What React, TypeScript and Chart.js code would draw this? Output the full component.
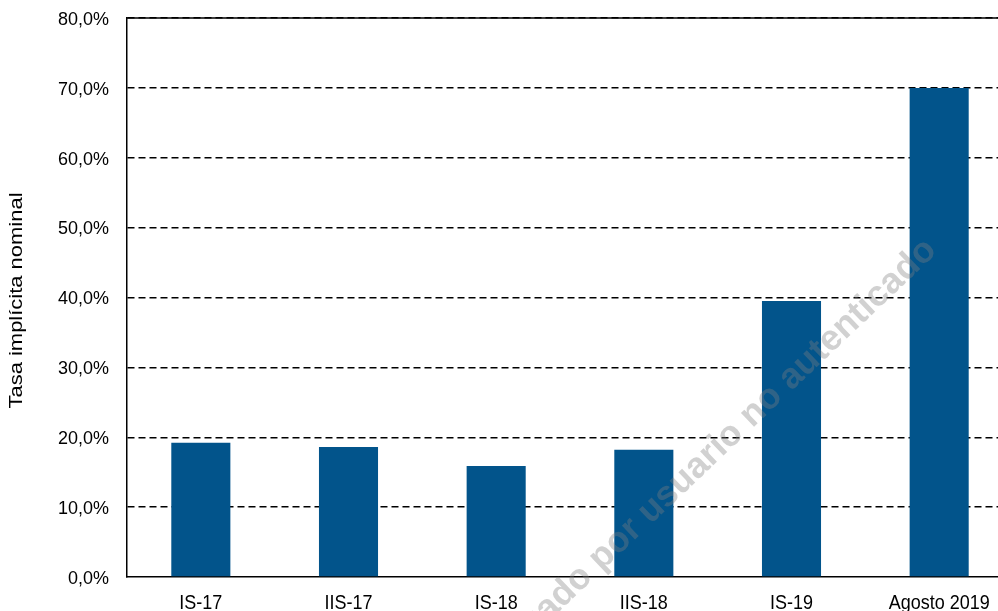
import React, { useEffect, useRef } from "react";
import { Chart, registerables } from "chart.js";

Chart.register(...registerables);

const categories = ["IS-17", "IIS-17", "IS-18", "IIS-18", "IS-19", "Agosto 2019"];
const tasaValues = [19.2, 18.6, 15.9, 18.2, 39.5, 70.0];
const yTicks = [0, 10, 20, 30, 40, 50, 60, 70, 80];
const yTitle = "Tasa implícita nominal";
const watermarkText = "Descargado por usuario no autenticado";

const FONT = "'Liberation Sans', Arial, sans-serif";

const fmt = (v: number) => v.toFixed(1).replace(".", ",") + "%";

const extrasPlugin = {
  id: "extras",
  afterDatasetsDraw(chart: any) {
    const { ctx, chartArea } = chart;
    const xs = chart.scales.x;
    const ys = chart.scales.y;
    // solid top border line
    ctx.save();
    ctx.strokeStyle = "#000";
    ctx.lineWidth = 1.5;
    ctx.beginPath();
    ctx.moveTo(chartArea.left, chartArea.top);
    ctx.lineTo(chartArea.right, chartArea.top);
    ctx.stroke();
    ctx.restore();

    // y tick labels
    ctx.save();
    ctx.fillStyle = "#000";
    ctx.font = `18px ${FONT}`;
    ctx.textAlign = "right";
    ctx.textBaseline = "middle";
    yTicks.forEach((v) => {
      const y = ys.getPixelForValue(v);
      ctx.save();
      ctx.translate(ys.right - 18, y + 1.5);
      ctx.scale(1, 1.06);
      ctx.fillText(fmt(v), 0, 0);
      ctx.restore();
    });
    ctx.restore();

    // x tick labels
    ctx.save();
    ctx.fillStyle = "#000";
    ctx.font = `18px ${FONT}`;
    ctx.textAlign = "center";
    ctx.textBaseline = "alphabetic";
    categories.forEach((c, i) => {
      const x = xs.getPixelForTick(i);
      ctx.save();
      ctx.translate(x, xs.top + 32);
      ctx.scale(1, 1.17);
      ctx.fillText(c, 0, 0);
      ctx.restore();
    });
    ctx.restore();

    // y axis title
    ctx.save();
    ctx.fillStyle = "#000";
    ctx.font = `18px ${FONT}`;
    ctx.textAlign = "center";
    ctx.textBaseline = "middle";
    ctx.translate(17.5, (chartArea.top + chartArea.bottom) / 2 + 3);
    ctx.rotate(-Math.PI / 2);
    ctx.scale(1.22, 1);
    ctx.fillText(yTitle, 0, 0);
    ctx.restore();

    // watermark
    ctx.save();
    ctx.translate(931, 245);
    ctx.rotate((-43.5 * Math.PI) / 180);
    ctx.font = `bold 36px ${FONT}`;
    ctx.fillStyle = "rgba(128,128,128,0.36)";
    ctx.textAlign = "right";
    ctx.textBaseline = "middle";
    ctx.fillText(watermarkText, 0, 0);
    ctx.restore();
  },
};

export default function App() {
  const ref = useRef<HTMLCanvasElement | null>(null);
  useEffect(() => {
    if (!ref.current) return;
    const chart = new Chart(ref.current, {
      type: "bar",
      data: {
        labels: categories,
        datasets: [
          {
            data: tasaValues,
            backgroundColor: "#02548B",
            borderWidth: 0,
            categoryPercentage: 1,
            barPercentage: 0.4,
          },
        ],
      },
      options: {
        animation: false,
        responsive: false,
        layout: { padding: { top: 18, right: 0, left: 0, bottom: 0 } },
        plugins: { legend: { display: false }, tooltip: { enabled: false } },
        scales: {
          x: {
            grid: { display: false, drawTicks: false },
            border: { display: true, color: "#000", width: 1.5 },
            ticks: { display: false },
            afterFit: (s: any) => {
              s.height = 34;
              s.paddingLeft = 0;
              s.paddingRight = 0;
            },
          },
          y: {
            min: 0,
            max: 80,
            afterBuildTicks: (s: any) => {
              s.ticks = yTicks.map((v) => ({ value: v }));
            },
            grid: {
              drawTicks: false,
              color: (c: any) => (c.tick && c.tick.value === 0 ? "rgba(0,0,0,0)" : "#000"),
              lineWidth: 1.5,
            },
            border: { display: true, color: "#000", width: 1.5, dash: [7, 4] },
            ticks: { display: false },
            title: { display: false },
            afterFit: (s: any) => {
              s.width = 127;
              s.paddingTop = 0;
              s.paddingBottom = 0;
            },
          },
        },
      },
      plugins: [extrasPlugin],
    });
    return () => chart.destroy();
  }, []);
  return (
    <div
      style={{
        position: "fixed",
        left: 0,
        top: 0,
        width: 998,
        height: 611,
        overflow: "hidden",
        background: "#fff",
      }}
    >
      <canvas ref={ref} width={1013} height={611} style={{ display: "block", width: 1013, height: 611 }} />
    </div>
  );
}
